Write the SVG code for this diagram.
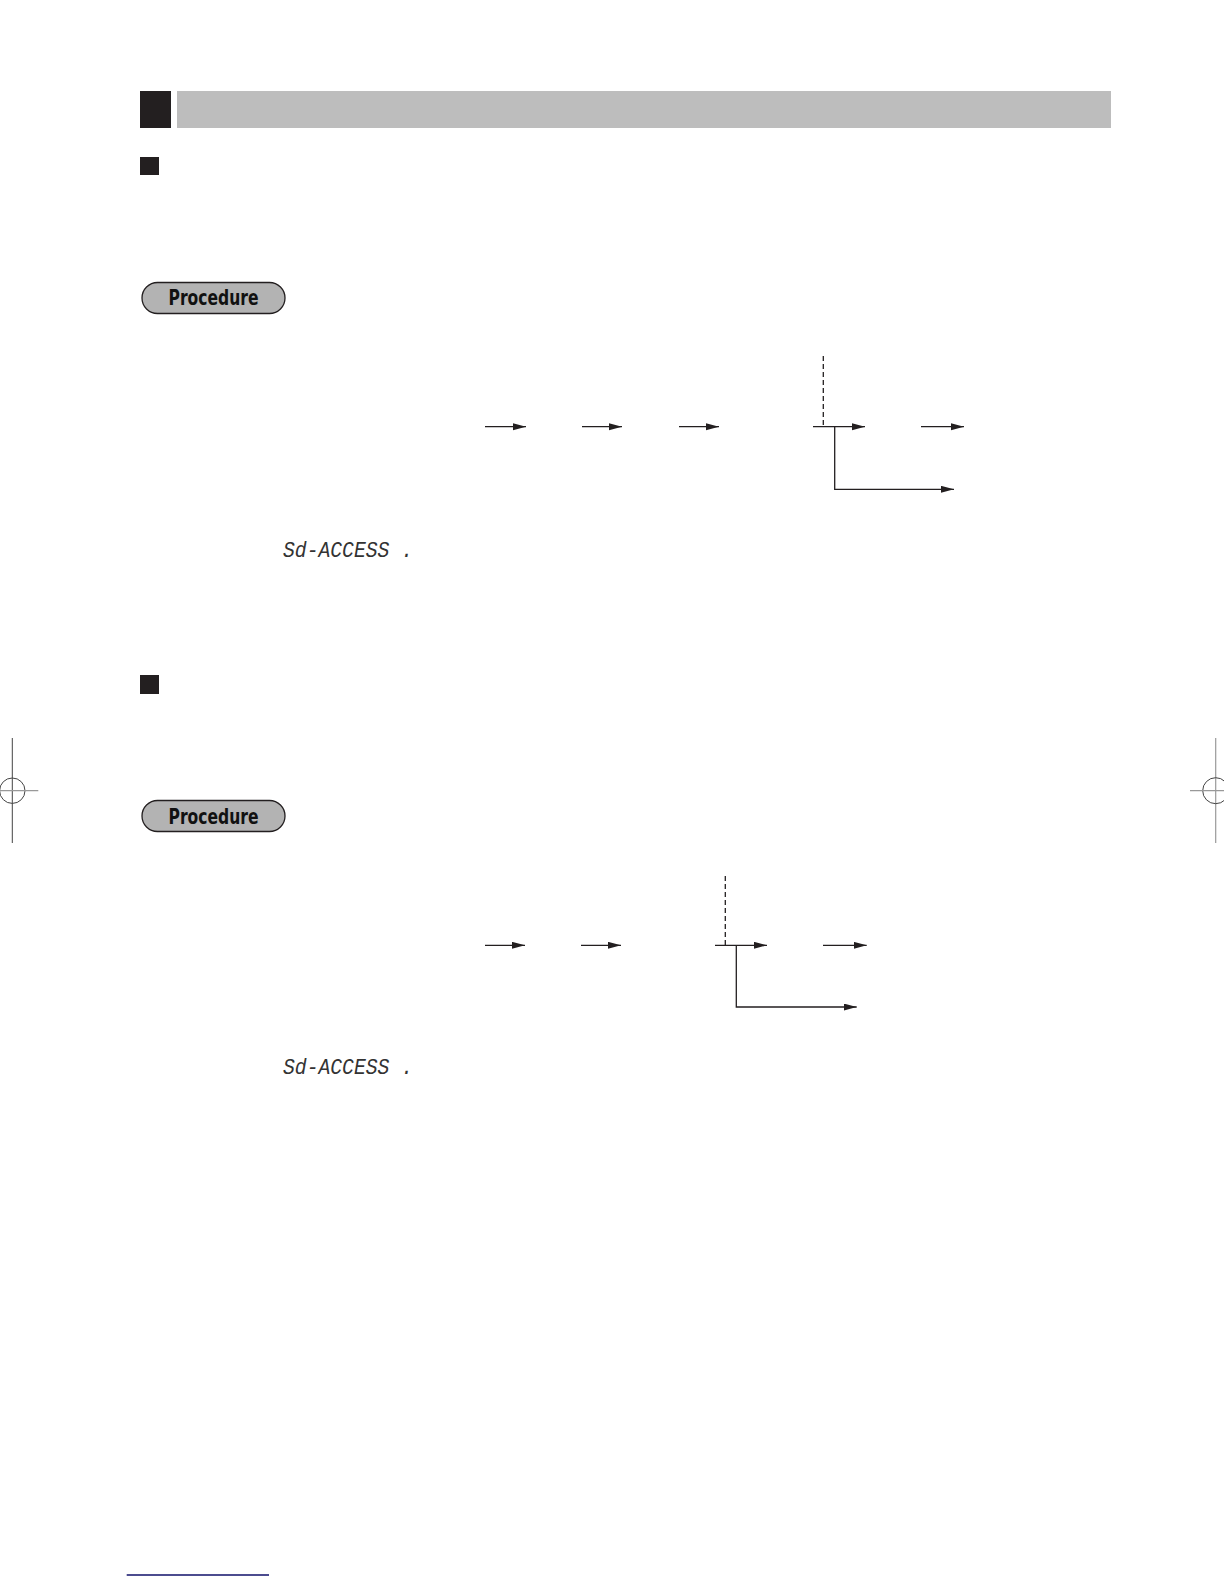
<svg xmlns="http://www.w3.org/2000/svg" width="1224" height="1584" viewBox="0 0 1224 1584">
<style>
.blk{fill:#231f20}
.pill{fill:#b3b3b3;stroke:#231f20;stroke-width:1.3}
.ptxt{font-family:"Liberation Sans Narrow","DejaVu Sans Condensed","Liberation Sans",sans-serif;font-weight:bold;font-size:21px;fill:#111}
.seg{font-family:"Liberation Mono","DejaVu Sans Mono",monospace;font-style:italic;font-size:22px;fill:#333;font-weight:normal}
.ln{stroke:#231f20;stroke-width:1.3;fill:none}
.ar{stroke:#231f20;stroke-width:1.3;fill:none;marker-end:url(#ah)}
.dash{stroke:#231f20;stroke-width:1.3;fill:none;stroke-dasharray:5,3}
.crop{stroke:#444;stroke-width:1;fill:none}
.cropg{stroke:#999;stroke-width:1.2;fill:none}
</style>
<defs>
<marker id="ah" markerUnits="userSpaceOnUse" markerWidth="14" markerHeight="8" refX="13" refY="3.5" orient="auto">
<path d="M0,0 L13,3.5 L0,7 z" fill="#231f20"/>
</marker>
</defs>
<rect width="1224" height="1584" fill="#fff"/>

<g id="header">
<rect class="blk" x="140" y="91" width="31" height="37"/>
<rect x="177" y="91" width="934" height="37" fill="#bdbdbd"/>
</g>

<g id="section1">
<rect id="bullet1" class="blk" x="140" y="157" width="19" height="18"/>
<g id="procedure1">
<rect class="pill" x="142" y="282.5" width="143" height="31" rx="15.5"/>
<text class="ptxt" x="213.5" y="305" text-anchor="middle" textLength="90" lengthAdjust="spacingAndGlyphs">Procedure</text>
</g>
<g id="display1">
<text class="seg" x="283" y="557" textLength="130" lengthAdjust="spacingAndGlyphs">Sd-ACCESS .</text>
</g>
</g>

<g id="section2">
<rect id="bullet2" class="blk" x="140" y="675" width="19" height="19"/>
<g id="procedure2">
<rect class="pill" x="142" y="800.5" width="143" height="31" rx="15.5"/>
<text class="ptxt" x="213.5" y="823.5" text-anchor="middle" textLength="90" lengthAdjust="spacingAndGlyphs">Procedure</text>
</g>
<g id="display2">
<text class="seg" x="283" y="1073.5" textLength="130" lengthAdjust="spacingAndGlyphs">Sd-ACCESS .</text>
</g>
</g>

<g id="connectors">
<line class="ar" x1="485" y1="426.7" x2="526" y2="426.7"/>
<line class="ar" x1="582" y1="426.7" x2="622" y2="426.7"/>
<line class="ar" x1="679" y1="426.7" x2="719" y2="426.7"/>
<line class="ar" x1="813" y1="426.7" x2="865" y2="426.7"/>
<line class="dash" x1="823.3" y1="356" x2="823.3" y2="426"/>
<polyline class="ar" points="834.7,426.7 834.7,489.3 954,489.3"/>
<line class="ar" x1="921" y1="426.7" x2="964" y2="426.7"/>

<line class="ar" x1="485" y1="945.3" x2="525" y2="945.3"/>
<line class="ar" x1="581" y1="945.3" x2="621" y2="945.3"/>
<line class="ar" x1="715" y1="945.3" x2="767" y2="945.3"/>
<line class="dash" x1="725.3" y1="876" x2="725.3" y2="945"/>
<polyline class="ar" points="736.3,945.3 736.3,1007 856.7,1007"/>
<line class="ar" x1="823" y1="945.3" x2="866.7" y2="945.3"/>
</g>

<g id="cropmarks">
<line class="crop" x1="12.3" y1="738" x2="12.3" y2="843"/>
<circle class="crop" cx="12.3" cy="790.7" r="12.7"/>
<line class="cropg" x1="0" y1="790.7" x2="38.3" y2="790.7"/>
<line class="cropg" x1="1215.7" y1="738" x2="1215.7" y2="843"/>
<circle class="crop" cx="1215.7" cy="790.7" r="13"/>
<line class="cropg" x1="1190" y1="790.7" x2="1224" y2="790.7"/>
</g>

<line id="footer" x1="126.7" y1="1575" x2="269" y2="1575" stroke="#10106a" stroke-width="1.5"/>
</svg>
